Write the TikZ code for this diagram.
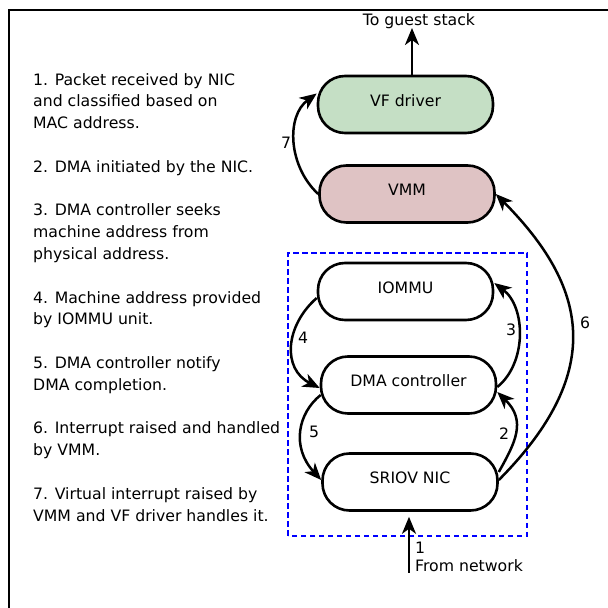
\documentclass[tikz,border=0pt]{standalone}
\usepackage{fontspec}
\setmainfont{DejaVu Sans}
\usetikzlibrary{arrows.meta,calc}
\definecolor{vfgreen}{HTML}{C5DFC5}
\definecolor{vmmpink}{HTML}{DFC3C4}
\begin{document}
\begin{tikzpicture}[x=1pt,y=1pt,
  every node/.style={font=\fontsize{15.7}{21.8}\selectfont},
  unit/.style={draw,line width=2.6pt,rounded corners=27pt,minimum width=175pt,minimum height=57pt,
    text height=11.5pt,text depth=8pt,inner sep=0pt},
  flow/.style={line width=2.5pt,-{Stealth[length=17pt,width=14pt,inset=5pt]}},
  numlabel/.style={inner sep=0pt}]
\useasboundingbox (0,0) rectangle (608,608);
\fill[white] (0,0) rectangle (608,608);
% outer frame (continues past the right and bottom edges)
\draw[line width=2.6pt] (9,-5) -- (9,598) -- (615,598);

% hardware group
\draw[blue,line width=2.8pt,dash pattern=on 5.5pt off 3.5pt] (288,72) rectangle (527,355);

% components
\node[unit,fill=vfgreen] (vf)    at (405.5,503.5) {VF driver};
\node[unit,fill=vmmpink] (vmm)   at (407,414)     {VMM};
\node[unit]              (iommu) at (405.5,316.5) {IOMMU};
\node[unit]              (dma)   at (408.5,223)   {DMA controller};
\node[unit]              (nic)   at (410,126)     {SRIOV NIC};

% entry and exit
\coordinate (guest) at (412,580);
\coordinate (net) at (409,35);
\draw[flow] (vf.north -| guest) -- (guest);
\node[inner sep=0pt] (guestlabel) at (419,587) {To guest stack};
\draw[flow] (net) -- ($(nic.south -| net)+(0,-5)$);
\node[anchor=north west,align=left,inner sep=0pt,font=\fontsize{15.7}{18}\selectfont] (netlabel) at (415,66) {1\\From network};

% numbered steps
\draw[flow] (vmm.west) .. controls (288,442) and (286,492) .. ($(vf.west)+(0,11)$);
\draw[flow] ($(nic.east)+(0,2)$) .. controls (608,238) and (586,323) .. (vmm.east);
\draw[flow] ($(iommu.west)+(0,-6.5)$) .. controls (285,282) and (282,239) .. ($(dma.west)+(0,-3)$);
\draw[flow] ($(dma.east)+(0,-2)$) .. controls (527,245) and (526,301) .. ($(iommu.east)+(0,8.5)$);
\draw[flow] ($(dma.west)+(1,-10)$) .. controls (298,195) and (291,161) .. ($(nic.west)+(0,2)$);
\draw[flow] ($(nic.east)+(0,10)$) .. controls (515,165) and (527,187) .. ($(dma.east)+(0,-7)$);

\node[numlabel] (n7) at (286,465) {7};
\node[numlabel] (n6) at (585,285) {6};
\node[numlabel] (n4) at (303,270) {4};
\node[numlabel] (n3) at (511,278) {3};
\node[numlabel] (n5) at (314,176) {5};
\node[numlabel] (n2) at (504,174) {2};

% legend
\node[anchor=north west,align=left,inner sep=0pt] (legend) at (33,535) {%
1. Packet received by NIC\\
and classified based on\\
MAC address.\\[21.8pt]
2. DMA initiated by the NIC.\\[21.8pt]
3. DMA controller seeks\\
machine address from\\
physical address.\\[21.8pt]
4. Machine address provided\\
by IOMMU unit.\\[21.8pt]
5. DMA controller notify\\
DMA completion.\\[21.8pt]
6. Interrupt raised and handled\\
by VMM.\\[21.8pt]
7. Virtual interrupt raised by\\
VMM and VF driver handles it.};
\end{tikzpicture}
\end{document}
